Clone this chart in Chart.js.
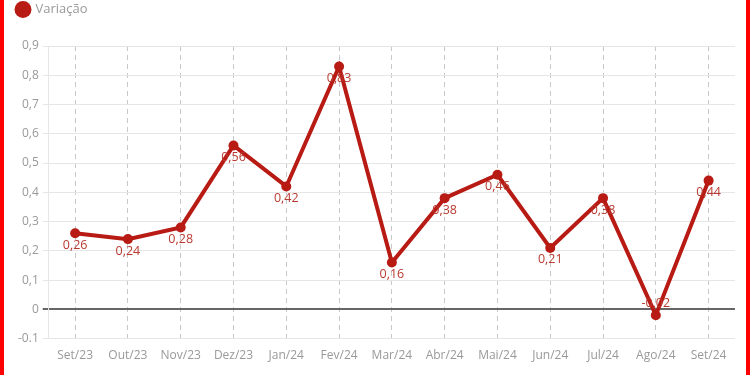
<!DOCTYPE html>
<html><head><meta charset="utf-8">
<script src="https://cdn.jsdelivr.net/npm/chart.js@4"></script>
<style>
html,body{margin:0;padding:0;background:#fff;}
#wrap{position:relative;width:750px;height:375px;}
.bar{position:absolute;top:0;width:4px;height:375px;background:#f00;}
</style></head>
<body>
<div id="wrap">
<canvas id="c" width="750" height="375"></canvas>
<div class="bar" style="left:0"></div>
<div class="bar" style="right:0"></div>
</div>
<script>
const categories = ["Set/23","Out/23","Nov/23","Dez/23","Jan/24","Fev/24","Mar/24","Abr/24","Mai/24","Jun/24","Jul/24","Ago/24","Set/24"];
const variacao = [0.26,0.24,0.28,0.56,0.42,0.83,0.16,0.38,0.46,0.21,0.38,-0.02,0.44];
const yTickLabels = {"-0.1":"-0.1","0":"0","0.1":"0,1","0.2":"0,2","0.3":"0,3","0.4":"0,4","0.5":"0,5","0.6":"0,6","0.7":"0,7","0.8":"0,8","0.9":"0,9"};

const labelPlugin = {
  id:'valLabels',
  afterDatasetsDraw(chart){
    const ctx = chart.ctx;
    const meta = chart.getDatasetMeta(0);
    ctx.save();
    ctx.font = '12.5px "Open Sans"';
    ctx.fillStyle = '#b83a30';
    ctx.textAlign = 'center';
    ctx.textBaseline = 'middle';
    meta.data.forEach((pt,i)=>{
      const v = variacao[i];
      const txt = v.toFixed(2).replace('.',',');
      const dy = v < 0 ? -12 : 12;
      ctx.fillText(txt, pt.x, pt.y + dy);
    });
    ctx.restore();
  }
};
const legendGap = {
  id:'legendGap',
  beforeInit(chart){
    const orig = chart.legend.fit;
    chart.legend.fit = function(){ orig.bind(chart.legend)(); this.height += 20; };
  }
};

new Chart(document.getElementById('c'), {
  type:'line',
  data:{labels:categories, datasets:[{
    label:'Variação', data:variacao,
    borderColor:'#b81a14', backgroundColor:'#b81a14',
    borderWidth:4, pointRadius:5, pointBackgroundColor:'#b81a14',
    pointBorderWidth:0, tension:0, fill:false
  }]},
  options:{
    responsive:false, animation:false,
    layout:{padding:{left:14,right:15,top:0,bottom:2}},
    plugins:{
      legend:{position:'top',align:'start',
        labels:{usePointStyle:true,pointStyle:'circle',boxWidth:12,boxHeight:12,padding:3,
          color:'#999',font:{family:'"Open Sans"',size:13}}},
      tooltip:{enabled:false}
    },
    scales:{
      x:{offset:true,
        grid:{color:'#c8c8c8',lineWidth:1,drawTicks:false},
        border:{display:false,dash:[5,4]},
        ticks:{color:'#999',font:{family:'"Open Sans"',size:12},padding:10,maxRotation:0,autoSkip:false}},
      y:{min:-0.1,max:0.9,
        grid:{color:ctx=>Math.abs(ctx.tick.value)<1e-9?'#666':'#e6e6e6',
              lineWidth:ctx=>Math.abs(ctx.tick.value)<1e-9?2:1,tickLength:6},
        border:{display:true,color:'#e6e6e6'},
        ticks:{stepSize:0.1,color:'#999',font:{family:'"Open Sans"',size:12},padding:4,
          callback:v=>{const k=String(Math.round(v*10)/10);return yTickLabels[k]!==undefined?yTickLabels[k]:k;}}}
    }
  },
  plugins:[labelPlugin, legendGap]
});
</script>
</body></html>
